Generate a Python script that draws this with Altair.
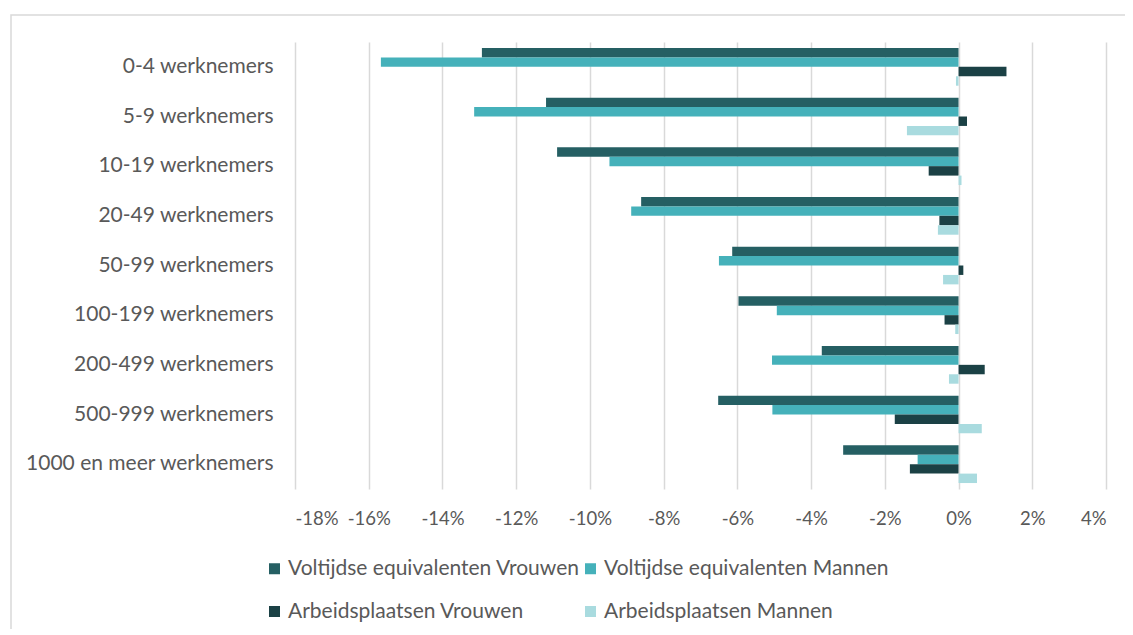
import altair as alt
import pandas as pd

categories = [
    "0-4 werknemers", "5-9 werknemers", "10-19 werknemers", "20-49 werknemers",
    "50-99 werknemers", "100-199 werknemers", "200-499 werknemers",
    "500-999 werknemers", "1000 en meer werknemers",
]
series = [
    "Voltijdse equivalenten Vrouwen",
    "Voltijdse equivalenten Mannen",
    "Arbeidsplaatsen Vrouwen",
    "Arbeidsplaatsen Mannen",
]
vte_vrouwen = [-12.93, -11.19, -10.89, -8.61, -6.14, -5.97, -3.71, -6.52, -3.13]
vte_mannen = [-15.67, -13.14, -9.47, -8.88, -6.50, -4.93, -5.06, -5.05, -1.11]
ap_vrouwen = [1.30, 0.23, -0.81, -0.52, 0.13, -0.38, 0.71, -1.73, -1.32]
ap_mannen = [-0.07, -1.40, 0.08, -0.56, -0.42, -0.09, -0.26, 0.63, 0.50]
colors = ["#255F63", "#45B1BA", "#1B4145", "#A9DBDF"]

rows = []
for s, vals in zip(series, [vte_vrouwen, vte_mannen, ap_vrouwen, ap_mannen]):
    for c, v in zip(categories, vals):
        rows.append({"Grootteklasse": c, "Reeks": s, "Waarde": v / 100})
df = pd.DataFrame(rows)

FONT = "Lato"
GREY = "#595959"
FS = 21

bars = alt.Chart(df).mark_bar(cornerRadius=0).encode(
    y=alt.Y(
        "Grootteklasse:N",
        sort=categories,
        title=None,
        scale=alt.Scale(paddingInner=0.24, paddingOuter=0.12),
        axis=alt.Axis(
            domain=False, ticks=False, grid=False, labelPadding=22,
            labelFont=FONT, labelFontSize=FS, labelColor=GREY, labelLimit=0,
        ),
    ),
    yOffset=alt.YOffset("Reeks:N", sort=series, scale=alt.Scale(paddingInner=0)),
    x=alt.X(
        "Waarde:Q",
        title=None,
        scale=alt.Scale(domain=[-0.18, 0.04], nice=False, zero=False),
        axis=alt.Axis(
            format=".0%", values=[i / 100 for i in range(-18, 5, 2)],
            labelExpr="replace(datum.label, '\u2212', '-')",
            domain=False, ticks=False, grid=True, gridColor="#d9d9d9",
            gridWidth=1.5, labelPadding=20, labelFont=FONT, labelFontSize=18.5,
            labelColor=GREY, labelLimit=0,
        ),
    ),
    color=alt.Color(
        "Reeks:N",
        sort=series,
        scale=alt.Scale(domain=series, range=colors),
        legend=alt.Legend(
            title=None, orient="none", legendX=-31, legendY=516,
            columns=2, direction="horizontal", symbolType="square",
            symbolSize=121, symbolStrokeWidth=0, labelFont=FONT,
            labelFontSize=FS, labelColor=GREY, labelOffset=3, labelLimit=0,
            columnPadding=0, rowPadding=21, padding=0,
        ),
    ),
)

border = alt.Chart(pd.DataFrame({"b": [0]})).mark_rect(
    fill=None, stroke="#d9d9d9", strokeWidth=1.5
).encode(
    x=alt.value(-284), x2=alt.value(900), y=alt.value(-27), y2=alt.value(700)
)

chart = alt.layer(border, bars).properties(
    width=811,
    height=447,
    background="white",
    autosize=alt.AutoSizeParams(type="none"),
    padding={"left": 287, "top": 34, "right": 19, "bottom": 140},
).configure_view(stroke=None)

chart.save("out.html", embed_options={"renderer": "svg", "actions": False})
